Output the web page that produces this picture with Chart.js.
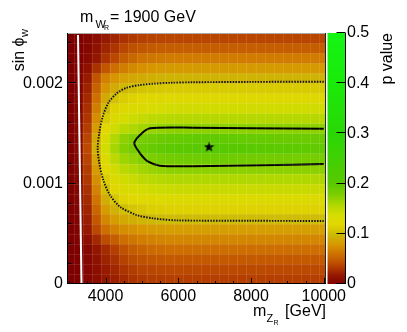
<!DOCTYPE html>
<html>
<head>
<meta charset="utf-8">
<script src="https://cdn.jsdelivr.net/npm/chart.js@4"></script>
<style>
  html, body { margin: 0; padding: 0; background: #fff; }
  #wrap { width: 407px; height: 332px; position: relative; }
</style>
</head>
<body>
<div id="wrap"><canvas id="chart"></canvas></div>
<script>
// bin centres along m_ZR (GeV)
const massZR = [3000, 3250, 3500, 3750, 4000, 4250, 4500, 4750, 5000, 5250, 5500, 5750,
  6000, 6250, 6500, 6750, 7000, 7250, 7500, 7750, 8000, 8250, 8500, 8750, 9000, 9250, 9500, 9750, 10000];
// bin edges along sin(phi_w)
const sinPhiEdges = [0, 0.0001, 0.0002, 0.0003, 0.0004, 0.0005, 0.0006, 0.0007, 0.0008, 0.0009, 0.001,
  0.0011, 0.0012, 0.0013, 0.0014, 0.0015, 0.0016, 0.0017, 0.0018, 0.0019, 0.002,
  0.0021, 0.0022, 0.0023, 0.0024, 0.0025];

// p value x1000, one row per sin(phi_w) bin, top row first
const pValueRows = [
  [0,1,4,10,17,23,29,32,35,36,37,38, 38,38,38,38,38,38,38,38,38,38,38,38,38,38,38,38,38],
  [0,1,5,13,23,30,38,43,46,48,49,50, 50,50,50,50,50,50,50,50,50,50,50,50,50,50,50,50,50],
  [0,1,7,16,29,39,49,55,60,62,64,65, 65,65,65,65,65,65,65,65,65,65,65,65,65,65,65,65,65],
  [0,2,12,29,46,58,66,71,75,78,79,80, 80,80,80,80,80,80,80,80,80,80,80,80,80,80,80,80,80],
  [0,3,19,45,67,78,85,87,90,92,94,95, 95,95,95,95,95,95,95,95,95,95,95,95,95,95,95,95,95],
  [0,3,22,52,77,90,98,101,105,107,108,109, 110,110,110,110,110,110,110,110,110,110,110,110,110,110,110,110,110],
  [0,4,25,59,88,103,111,115,119,121,123,124, 125,125,125,125,125,125,125,125,125,125,125,125,125,125,125,125,125],
  [0,4,28,66,98,115,125,129,133,136,138,139, 140,140,140,140,140,140,140,140,140,140,140,140,140,140,140,140,140],
  [0,5,31,73,109,127,138,143,147,150,153,154, 155,155,155,155,155,155,155,155,155,155,155,155,155,155,155,155,155],
  [0,5,34,81,120,141,153,158,163,167,169,171, 172,172,172,172,172,172,172,172,172,172,172,172,172,172,172,172,172],
  [0,6,38,90,134,157,171,177,182,186,189,191, 192,193,194,195,195,195,194,193,192,192,191,191,190,190,189,189,189],
  [0,6,40,93,139,162,176,182,188,192,195,197, 198,199,200,201,202,202,201,200,199,198,198,197,197,196,196,195,195],
  [0,6,37,87,130,152,165,170,176,179,182,184, 185,186,187,188,188,188,187,186,185,185,184,184,184,183,183,183,182],
  [0,5,34,81,120,141,153,158,163,167,169,171, 172,172,172,172,172,172,172,172,172,172,172,172,172,172,172,172,172],
  [0,5,32,74,111,130,141,145,150,153,156,157, 158,158,158,158,158,158,158,158,158,158,158,158,158,158,158,158,158],
  [0,4,29,68,102,119,129,133,138,141,143,144, 145,145,145,145,145,145,145,145,145,145,145,145,145,145,145,145,145],
  [0,4,26,61,91,107,116,120,124,126,128,129, 130,130,130,130,130,130,130,130,130,130,130,130,130,130,130,130,130],
  [0,3,23,54,81,94,102,106,109,112,113,114, 115,115,115,115,115,115,115,115,115,115,115,115,115,115,115,115,115],
  [0,3,20,47,70,82,89,92,95,97,99,100, 100,100,100,100,100,100,100,100,100,100,100,100,100,100,100,100,100],
  [0,2,17,39,58,68,74,76,79,81,82,83, 83,83,83,83,83,83,83,83,83,83,83,83,83,83,83,83,83],
  [0,2,11,25,41,50,58,62,66,68,69,70, 70,70,70,70,70,70,70,70,70,70,70,70,70,70,70,70,70],
  [0,1,6,15,26,35,44,49,53,56,57,58, 58,58,58,58,58,58,58,58,58,58,58,58,58,58,58,58,58],
  [0,1,5,12,22,29,36,41,44,46,47,48, 48,48,48,48,48,48,48,48,48,48,48,48,48,48,48,48,48],
  [0,1,4,10,18,24,30,34,37,38,39,40, 40,40,40,40,40,40,40,40,40,40,40,40,40,40,40,40,40],
  [0,1,4,9,16,21,26,30,32,34,34,35, 35,35,35,35,35,35,35,35,35,35,35,35,35,35,35,35,35]
];

// dotted contour (outer)
const outerContour = [
  {x: 10000, y: 0.002015}, {x: 8000, y: 0.002013}, {x: 6404, y: 0.002009}, {x: 5800, y: 0.002004},
  {x: 5300, y: 0.001995}, {x: 4946, y: 0.001982}, {x: 4580, y: 0.001955}, {x: 4305, y: 0.001899},
  {x: 4074, y: 0.001803}, {x: 3920, y: 0.001666}, {x: 3826, y: 0.001504}, {x: 3782, y: 0.001352},
  {x: 3826, y: 0.001205}, {x: 3936, y: 0.001036}, {x: 4120, y: 0.000886}, {x: 4396, y: 0.00077},
  {x: 4855, y: 0.000687}, {x: 5312, y: 0.000654}, {x: 5955, y: 0.000634}, {x: 8000, y: 0.00063},
  {x: 10000, y: 0.000627}
];
// solid contour (inner)
const innerContour = [
  {x: 10000, y: 0.001547}, {x: 8000, y: 0.001552}, {x: 6412, y: 0.001557}, {x: 5221, y: 0.001551},
  {x: 4946, y: 0.001484}, {x: 4789, y: 0.001401}, {x: 4946, y: 0.001302}, {x: 5174, y: 0.001218},
  {x: 5496, y: 0.001178}, {x: 6412, y: 0.001173}, {x: 8247, y: 0.001182}, {x: 10000, y: 0.001195}
];
const bestFit = [{x: 6844, y: 0.001368}];
const whiteLine = [{x: 3240, y: 0.00248}, {x: 3336, y: 0}];

const xMajorTicks = [4000, 6000, 8000, 10000];
const xMinorTicks = [3000, 3500, 4500, 5000, 5500, 6500, 7000, 7500, 8500, 9000, 9500];
const yMajorTicks = [0, 0.001, 0.002];
const yMinorTicks = [0.0002, 0.0004, 0.0006, 0.0008, 0.0012, 0.0014, 0.0016, 0.0018, 0.0022, 0.0024];
const pTicks = [0, 0.1, 0.2, 0.3, 0.4, 0.5];

const paletteStops = [0, 0.018, 0.038, 0.058, 0.078, 0.098, 0.118, 0.137, 0.157, 0.177, 0.2, 0.3, 0.4, 0.5];
const paletteColors = [[125,0,0],[150,25,0],[185,70,0],[205,110,0],[215,150,0],[205,185,5],[225,215,0],
  [215,220,0],[178,216,0],[128,206,0],[88,201,0],[42,215,5],[25,235,10],[20,245,20]];

const FONT = "'Liberation Sans', Arial, Helvetica, sans-serif";

function rgbStr(c) {
  return "rgb(" + c.map(Math.round).join(",") + ")";
}

function pColor(p) {
  if (p <= paletteStops[0]) return rgbStr(paletteColors[0]);
  for (let i = 1; i < paletteStops.length; i++) {
    if (p <= paletteStops[i]) {
      const t = (p - paletteStops[i - 1]) / (paletteStops[i] - paletteStops[i - 1]);
      const a = paletteColors[i - 1], b = paletteColors[i];
      return rgbStr(a.map((v, k) => v + (b[k] - v) * t));
    }
  }
  return rgbStr(paletteColors[paletteColors.length - 1]);
}

function starImage(size) {
  const c = document.createElement("canvas");
  c.width = size;
  c.height = size;
  const g = c.getContext("2d");
  g.translate(size / 2, size / 2 + 0.5);
  g.beginPath();
  for (let i = 0; i < 10; i++) {
    const r = i % 2 ? size * 0.21 : size * 0.5;
    const a = -Math.PI / 2 + (i * Math.PI) / 5;
    g.lineTo(r * Math.cos(a), r * Math.sin(a));
  }
  g.closePath();
  g.fillStyle = "#000";
  g.fill();
  return c;
}

const nRows = pValueRows.length;
const cellDatasets = pValueRows.map((row, k) => {
  const r = nRows - 1 - k;
  return {
    type: "bar",
    data: row.map((v, i) => ({ x: massZR[i], y: [sinPhiEdges[r], sinPhiEdges[r + 1]] })),
    backgroundColor: row.map((v) => pColor(v / 1000)),
    borderWidth: 0,
    barPercentage: 1,
    categoryPercentage: 1,
    grouped: false,
    clip: 0,
    order: 10,
  };
});

function txt(ctx, s, x, y, size, align) {
  ctx.font = size + "px " + FONT;
  ctx.textAlign = align || "left";
  ctx.textBaseline = "alphabetic";
  ctx.fillText(s, x, y);
}

const rootStyle = {
  id: "rootStyle",
  afterDatasetsDraw(chart) {
    const { ctx, chartArea: a, scales } = chart;
    ctx.save();
    ctx.beginPath();
    ctx.rect(a.left, a.top, a.right - a.left, a.bottom - a.top);
    ctx.clip();
    ctx.strokeStyle = "rgba(255,255,255,0.1)";
    ctx.lineWidth = 1;
    ctx.beginPath();
    for (let i = 1; i < massZR.length; i++) {
      const px = Math.round(scales.x.getPixelForValue((massZR[i - 1] + massZR[i]) / 2)) + 0.5;
      ctx.moveTo(px, a.top);
      ctx.lineTo(px, a.bottom);
    }
    for (let j = 1; j < sinPhiEdges.length - 1; j++) {
      const py = Math.round(scales.y.getPixelForValue(sinPhiEdges[j])) + 0.5;
      ctx.moveTo(a.left, py);
      ctx.lineTo(a.right, py);
    }
    ctx.stroke();
    ctx.restore();
  },
  afterDraw(chart) {
    const { ctx, chartArea: a, scales } = chart;
    const x = scales.x, y = scales.y, p = scales.p;
    ctx.save();

    // frame
    ctx.lineWidth = 1;
    ctx.strokeStyle = "#aaa";
    ctx.beginPath();
    ctx.moveTo(a.left, a.top + 0.5);
    ctx.lineTo(a.right, a.top + 0.5);
    ctx.stroke();
    ctx.strokeStyle = "#222";
    ctx.beginPath();
    ctx.moveTo(a.right - 0.5, a.top);
    ctx.lineTo(a.right - 0.5, a.bottom);
    ctx.stroke();
    ctx.strokeStyle = "#000";
    ctx.beginPath();
    ctx.moveTo(a.left + 0.5, a.top);
    ctx.lineTo(a.left + 0.5, a.bottom);
    ctx.moveTo(a.left, a.bottom - 0.5);
    ctx.lineTo(a.right, a.bottom - 0.5);

    // ticks, drawn inward
    xMajorTicks.forEach((v) => {
      const px = Math.round(x.getPixelForValue(v)) + 0.5;
      ctx.moveTo(px, a.bottom);
      ctx.lineTo(px, a.bottom - 6);
    });
    xMinorTicks.forEach((v) => {
      const px = Math.round(x.getPixelForValue(v)) + 0.5;
      ctx.moveTo(px, a.bottom);
      ctx.lineTo(px, a.bottom - 3);
    });
    yMajorTicks.forEach((v) => {
      const py = Math.round(y.getPixelForValue(v)) - 0.5;
      ctx.moveTo(a.left, py);
      ctx.lineTo(a.left + 8.5, py);
    });
    yMinorTicks.forEach((v) => {
      const py = Math.round(y.getPixelForValue(v)) - 0.5;
      ctx.moveTo(a.left, py);
      ctx.lineTo(a.left + 4.5, py);
    });
    ctx.stroke();

    // colour bar
    const barL = a.right + 1.5, barR = a.right + 19.5;
    const y0 = p.getPixelForValue(0), y1 = p.getPixelForValue(0.5);
    const grad = ctx.createLinearGradient(0, y0, 0, y1);
    paletteStops.forEach((s, i) => grad.addColorStop(s / 0.5, rgbStr(paletteColors[i])));
    ctx.fillStyle = grad;
    ctx.fillRect(barL, y1, barR - barL, y0 - y1);
    ctx.strokeStyle = "#000";
    ctx.beginPath();
    ctx.moveTo(barR, y1);
    ctx.lineTo(barR, y0);
    pTicks.forEach((v) => {
      const py = Math.round(p.getPixelForValue(v)) - 0.5;
      ctx.moveTo(barR, py);
      ctx.lineTo(barR - 9, py);
    });
    ctx.stroke();

    // titles
    ctx.fillStyle = "#000";
    txt(ctx, "m", 80, 22, 16);
    txt(ctx, "W", 95.5, 27.5, 11);
    txt(ctx, "R", 104, 30, 7);
    txt(ctx, "= 1900 GeV", 110, 22, 16);

    txt(ctx, "m", 253, 315.5, 16);
    txt(ctx, "Z", 266.5, 321.5, 11);
    txt(ctx, "R", 273.5, 325, 7);
    txt(ctx, "[GeV]", a.right, 315.5, 16, "right");

    ctx.save();
    ctx.translate(23.5, 29);
    ctx.rotate(-Math.PI / 2);
    ctx.font = "16px " + FONT;
    const w1 = ctx.measureText("sin \u03d5").width;
    ctx.font = "11px " + FONT;
    const w2 = ctx.measureText("w").width;
    const start = -(w1 + w2 + 0.5);
    txt(ctx, "sin \u03d5", start, 0, 16);
    txt(ctx, "w", start + w1 + 0.5, 4, 11);
    ctx.restore();

    ctx.save();
    ctx.translate(392, 33);
    ctx.rotate(-Math.PI / 2);
    txt(ctx, "p value", 0, 0, 16, "right");
    ctx.restore();

    ctx.restore();
  },
};

Chart.defaults.font.family = FONT;
Chart.defaults.font.size = 16;
Chart.defaults.color = "#000";

new Chart(document.getElementById("chart"), {
  type: "bar",
  data: {
    datasets: [
      {
        type: "scatter",
        data: bestFit,
        pointStyle: starImage(11),
        pointRadius: 5,
        order: 0,
      },
      {
        type: "line",
        data: innerContour,
        borderColor: "#000",
        borderWidth: 2,
        pointRadius: 0,
        tension: 0.25,
        fill: false,
        order: 1,
      },
      {
        type: "line",
        data: outerContour,
        borderColor: "#111",
        borderWidth: 1.9,
        borderDash: [1.5, 1.3],
        pointRadius: 0,
        tension: 0.3,
        fill: false,
        order: 2,
      },
      {
        type: "line",
        data: whiteLine,
        borderColor: "#fff",
        borderWidth: 2,
        pointRadius: 0,
        fill: false,
        order: 3,
      },
      ...cellDatasets,
    ],
  },
  options: {
    responsive: true,
    maintainAspectRatio: false,
    animation: false,
    events: [],
    layout: { padding: { top: 33, left: 0, right: 0, bottom: 0 } },
    plugins: { legend: { display: false }, tooltip: { enabled: false } },
    scales: {
      x: {
        type: "linear",
        min: 2937.5,
        max: 10062.5,
        offset: false,
        grid: { display: false, drawTicks: false },
        border: { display: false },
        afterBuildTicks: (s) => { s.ticks = xMajorTicks.map((v) => ({ value: v })); },
        afterFit: (s) => { s.height = 48; },
        ticks: { padding: 3, maxRotation: 0, autoSkip: false, callback: (v) => String(v) },
      },
      y: {
        type: "linear",
        min: 0,
        max: 0.0025,
        grid: { display: false, drawTicks: false },
        border: { display: false },
        afterBuildTicks: (s) => { s.ticks = yMajorTicks.map((v) => ({ value: v })); },
        afterFit: (s) => { s.width = 67; },
        ticks: { padding: 4, autoSkip: false, callback: (v) => String(v) },
      },
      p: {
        type: "linear",
        position: "right",
        min: 0,
        max: 0.5,
        grid: { display: false, drawTicks: false },
        border: { display: false },
        afterBuildTicks: (s) => { s.ticks = pTicks.map((v) => ({ value: v })); },
        afterFit: (s) => { s.width = 81; },
        ticks: { padding: 21, autoSkip: false, callback: (v) => String(v) },
      },
    },
  },
  plugins: [rootStyle],
});
</script>
</body>
</html>
